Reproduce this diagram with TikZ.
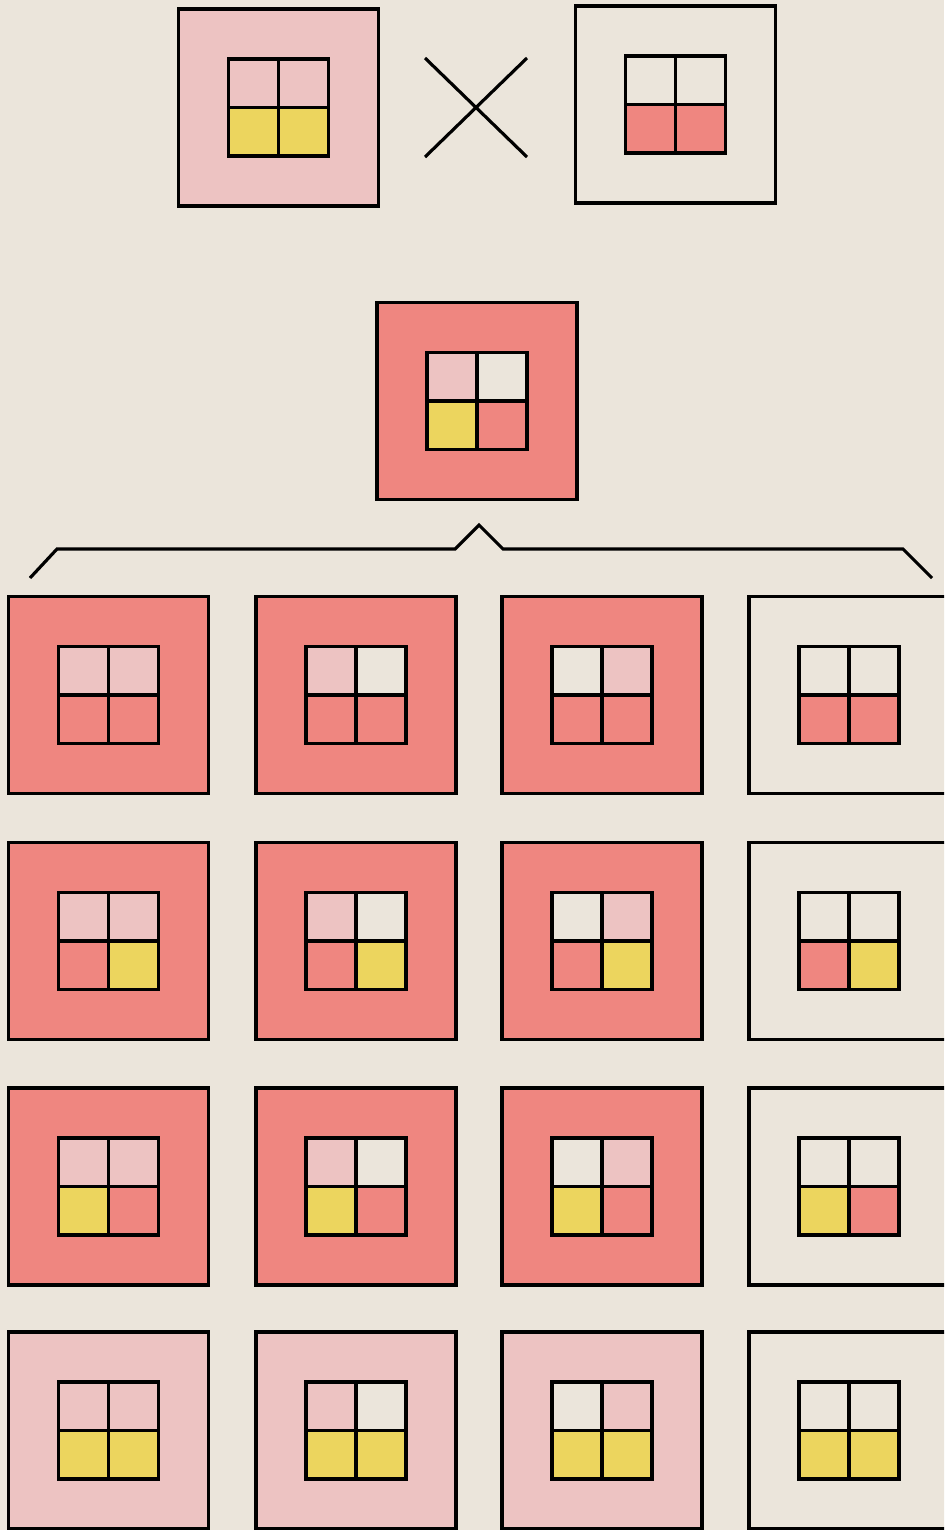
\documentclass[tikz,border=0pt]{standalone}
\usetikzlibrary{calc}
\definecolor{paper}{RGB}{235,229,219}
\definecolor{salmon}{RGB}{239,134,128}
\definecolor{blush}{RGB}{237,195,194}
\definecolor{straw}{RGB}{236,213,94}
\tikzset{
  outerbox/.style={draw=black, line width=2.9pt, minimum width=6cm, minimum height=5.9cm, inner sep=0pt, outer sep=0pt},
  gridline/.style={draw=black, line width=3.2pt, line join=miter},
  strokeline/.style={draw=black, line width=2.7pt, line join=miter},
}
\newcommand\genobox[7]{%
  \node[outerbox, fill=#3] (#1) at #2 {};
  \begin{scope}[shift={(#1.center)}]
    \fill[#4] (-50,-48.5) rectangle (0,0);
    \fill[#5] (0,-48.5) rectangle (50,0);
    \fill[#6] (-50,0) rectangle (0,48.5);
    \fill[#7] (0,0) rectangle (50,48.5);
    \draw[gridline] (-50,-48.5) rectangle (50,48.5);
    \draw[gridline] (0,-48.5) -- (0,48.5) (-50,0) -- (50,0);
  \end{scope}%
}
\begin{document}
\begin{tikzpicture}[x=0.03cm,y=-0.03cm]
  \fill[paper] (0,0) rectangle (944,1530);
  \useasboundingbox (0,0) rectangle (944,1530);
  \clip (0,0) rectangle (944,1530);
  % parents
  \genobox{pA}{(278.5,107.5)}{blush}{blush}{blush}{straw}{straw}
  \genobox{pB}{(675.5,104.5)}{paper}{paper}{paper}{salmon}{salmon}
  \coordinate (xa) at (425,58);
  \coordinate (xb) at (527,157);
  \coordinate (xc) at (425,157);
  \coordinate (xd) at (527,58);
  \draw[strokeline] (xa) -- (xb) (xc) -- (xd);
  % F1
  \genobox{fone}{(477,401)}{salmon}{blush}{paper}{straw}{salmon}
  % brace
  \coordinate (b1) at (30,578);
  \coordinate (b2) at (57,549);
  \coordinate (b3) at (455,549);
  \coordinate (b4) at (479,525);
  \coordinate (b5) at (503,549);
  \coordinate (b6) at (903,549);
  \coordinate (b7) at (932,578);
  \draw[strokeline] (b1) -- (b2) -- (b3) -- (b4) -- (b5) -- (b6) -- (b7);
  % F2 row 1
  \genobox{ra}{(108.5,695)}{salmon}{blush}{blush}{salmon}{salmon}
  \genobox{rb}{(356,695)}{salmon}{blush}{paper}{salmon}{salmon}
  \genobox{rc}{(602,695)}{salmon}{paper}{blush}{salmon}{salmon}
  \genobox{rd}{(849,695)}{paper}{paper}{paper}{salmon}{salmon}
  % row 2
  \genobox{sa}{(108.5,941)}{salmon}{blush}{blush}{salmon}{straw}
  \genobox{sb}{(356,941)}{salmon}{blush}{paper}{salmon}{straw}
  \genobox{sc}{(602,941)}{salmon}{paper}{blush}{salmon}{straw}
  \genobox{sd}{(849,941)}{paper}{paper}{paper}{salmon}{straw}
  % row 3
  \genobox{ta}{(108.5,1186.5)}{salmon}{blush}{blush}{straw}{salmon}
  \genobox{tb}{(356,1186.5)}{salmon}{blush}{paper}{straw}{salmon}
  \genobox{tc}{(602,1186.5)}{salmon}{paper}{blush}{straw}{salmon}
  \genobox{td}{(849,1186.5)}{paper}{paper}{paper}{straw}{salmon}
  % row 4
  \genobox{ua}{(108.5,1430.5)}{blush}{blush}{blush}{straw}{straw}
  \genobox{ub}{(356,1430.5)}{blush}{blush}{paper}{straw}{straw}
  \genobox{uc}{(602,1430.5)}{blush}{paper}{blush}{straw}{straw}
  \genobox{ud}{(849,1430.5)}{paper}{paper}{paper}{straw}{straw}
\end{tikzpicture}
\end{document}
